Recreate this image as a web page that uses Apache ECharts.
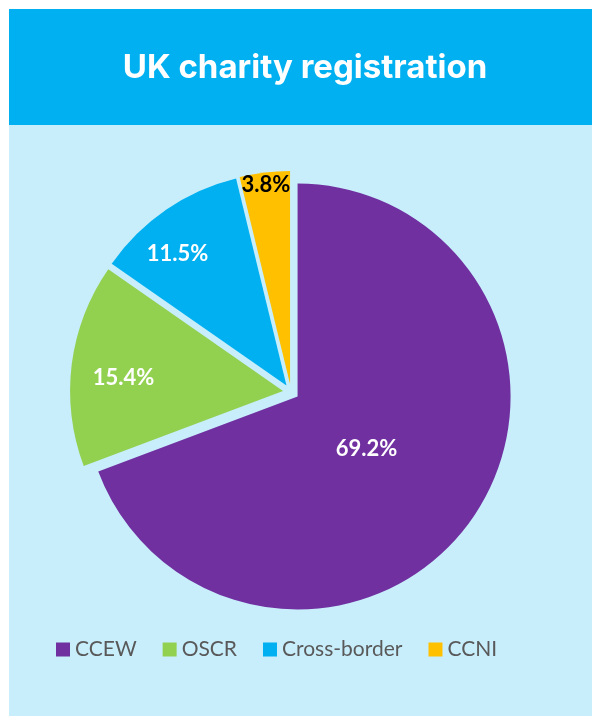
<!DOCTYPE html>
<html>
<head>
<meta charset="utf-8">
<script src="https://cdn.jsdelivr.net/npm/echarts@6/dist/echarts.min.js"></script>
<style>
  html, body { margin: 0; padding: 0; background: #fff; }
  #chart { width: 592px; height: 716px; }
</style>
</head>
<body>
<div id="chart"></div>
<script>
// chart data
var categories = ["CCEW", "OSCR", "Cross-border", "CCNI"];
var shares = [69.2, 15.4, 11.5, 3.8];
var sliceColors = ["#7030A0", "#92D050", "#00B0F0", "#FFC000"];
var labelColors = ["#ffffff", "#ffffff", "#ffffff", "#000000"];

// nudge the inside labels to where excel put them
var labelShift = [[-21, -10], [-51, 0], [-47, -41], [-11, -90]];

var chart = echarts.init(document.getElementById("chart"));

chart.setOption({
  animation: false,
  graphic: [
    { type: "rect", shape: { x: 9, y: 9, width: 583, height: 707 }, style: { fill: "#C8EEFC" }, silent: true, z: -10 },
    { type: "rect", shape: { x: 9, y: 9, width: 583, height: 116 }, style: { fill: "#00B0F0" }, silent: true, z: -9 }
  ],
  title: {
    text: "UK charity registration",
    left: 300,
    textAlign: "center",
    top: 47,
    textStyle: {
      color: "#ffffff",
      fontFamily: "Inter",
      fontWeight: "bold",
      fontSize: 33
    }
  },
  legend: {
    data: categories,
    left: 56,
    top: 639,
    padding: 0,
    icon: "rect",
    itemWidth: 14,
    itemHeight: 14,
    itemGap: 26,
    // cross-border gets a bit more room after it, like the original
    formatter: function (name) {
      return name === "Cross-border" ? "{wide|" + name + "}" : name;
    },
    textStyle: {
      color: "#595959",
      fontFamily: "Lato",
      fontSize: 21,
      rich: {
        wide: { width: 132, color: "#595959", fontFamily: "Lato", fontSize: 21 }
      }
    },
    selectedMode: false
  },
  series: [
    {
      type: "pie",
      center: [291, 392],
      radius: 213,
      startAngle: 90,
      clockwise: true,
      selectedMode: "multiple",
      selectedOffset: 8,
      emphasis: { disabled: true },
      label: {
        show: true,
        position: "inside",
        fontFamily: "Lato",
        fontWeight: "bold",
        fontSize: 22,
        formatter: function (p) { return p.value.toFixed(1) + "%"; }
      },
      labelLine: { show: false },
      labelLayout: function (p) {
        var s = labelShift[p.dataIndex];
        return { dx: s[0], dy: s[1] };
      },
      data: categories.map(function (name, i) {
        return {
          name: name,
          value: shares[i],
          selected: true,
          itemStyle: { color: sliceColors[i] },
          label: { color: labelColors[i] }
        };
      })
    }
  ]
});
</script>
</body>
</html>
